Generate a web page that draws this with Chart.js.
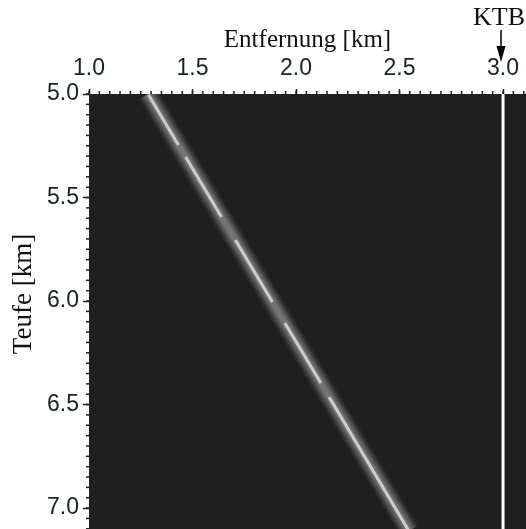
<!DOCTYPE html>
<html>
  <head>
    <style>
      body {
        margin: 0;
        background: #fff;
        overflow: hidden;
      }
      .wrap {
        width: 526px;
        height: 529px;
        position: relative;
      }
    </style>
    <script src="https://cdn.jsdelivr.net/npm/chart.js"></script>
  </head>
  <body>
    <div class="wrap">
      <canvas id="profil"></canvas>
    </div>
    <script>
      // Achsen
      var xTicks = [1.0, 1.5, 2.0, 2.5, 3.0];
      var yTicks = [5.0, 5.5, 6.0, 6.5, 7.0];
      var xRange = [1.0, 3.111];
      var yRange = [5.0, 7.101];

      // Reflektor (breites graues Band)
      var bandX = [1.285, 2.547];
      var bandY = [5.0, 7.11];

      // helle Abschnitte auf dem Band
      var dashStartX = [1.288, 1.467, 1.707, 1.946, 2.160];
      var dashStartY = [5.005, 5.304, 5.705, 6.106, 6.464];
      var dashEndX = [1.432, 1.640, 1.886, 2.120, 2.545];
      var dashEndY = [5.246, 5.594, 6.005, 6.396, 7.11];

      // Bohrung KTB
      var ktbX = 3.0;
      var ktbY = [5.0, 7.11];

      function pts(xs, ys) {
        return xs.map(function(x, i) { return {x: x, y: ys[i]}; });
      }

      // kleinere order = weiter oben
      var datasets = [];
      var glow = [
        [20, 'rgba(80,80,80,0.25)'],
        [16, 'rgba(92,92,92,0.40)'],
        [12, 'rgba(100,100,100,0.60)'],
        [8, 'rgba(108,108,108,0.85)'],
        [5, '#747474']
      ];
      glow.forEach(function(g, k) {
        datasets.push({
          data: pts(bandX, bandY),
          borderColor: g[1],
          borderWidth: g[0],
          showLine: true,
          pointRadius: 0,
          order: 10 - k
        });
      });
      dashStartX.forEach(function(x, i) {
        datasets.push({
          data: [{x: x, y: dashStartY[i]}, {x: dashEndX[i], y: dashEndY[i]}],
          borderColor: '#cdcdcd',
          borderWidth: 3,
          showLine: true,
          pointRadius: 0,
          order: 2
        });
      });
      datasets.push({
        data: [{x: ktbX, y: ktbY[0]}, {x: ktbX, y: ktbY[1]}],
        borderColor: '#ffffff',
        borderWidth: 3,
        showLine: true,
        pointRadius: 0,
        order: 1
      });

      var tickFont = {family: '"Liberation Sans", Arial, sans-serif', size: 23};
      var inkColor = '#122424';

      var decor = {
        id: 'decor',
        beforeDatasetsDraw: function(chart) {
          var a = chart.chartArea, ctx = chart.ctx;
          ctx.save();
          ctx.fillStyle = '#1f1f1f';
          ctx.fillRect(a.left, a.top, a.right - a.left, a.bottom - a.top);
          ctx.restore();
        },
        afterDraw: function(chart) {
          var a = chart.chartArea, ctx = chart.ctx;
          var xs = chart.scales.x, ys = chart.scales.y;
          ctx.save();
          // kleine Striche alle 0.05 km
          ctx.strokeStyle = inkColor;
          ctx.lineWidth = 1.5;
          for (var i = 0; i <= 42; i++) {
            var v = 1.0 + i * 0.05;
            var px = xs.getPixelForValue(v);
            if (px > a.right) break;
            ctx.beginPath();
            ctx.moveTo(px, a.top);
            ctx.lineTo(px, a.top - 3);
            ctx.stroke();
          }
          for (var j = 0; j <= 42; j++) {
            var w = 5.0 + j * 0.05;
            var py = ys.getPixelForValue(w);
            if (py > a.bottom) break;
            ctx.beginPath();
            ctx.moveTo(a.left, py);
            ctx.lineTo(a.left - 3, py);
            ctx.stroke();
          }
          // Achsentitel
          ctx.fillStyle = '#111';
          ctx.font = '25px "Liberation Serif", "Times New Roman", serif';
          ctx.textAlign = 'center';
          ctx.textBaseline = 'alphabetic';
          ctx.fillText('Entfernung [km]', (a.left + a.right) / 2, 47);
          ctx.save();
          ctx.translate(31, 294);
          ctx.rotate(-Math.PI / 2);
          ctx.font = '27px "Liberation Serif", "Times New Roman", serif';
          ctx.fillText('Teufe [km]', 0, 0);
          ctx.restore();
          // KTB mit Pfeil
          var kx = xs.getPixelForValue(ktbX);
          ctx.font = '26px "Liberation Serif", "Times New Roman", serif';
          ctx.fillText('KTB', kx - 4, 25);
          ctx.strokeStyle = '#000';
          ctx.lineWidth = 1.5;
          ctx.beginPath();
          ctx.moveTo(kx - 2, 30);
          ctx.lineTo(kx - 2, 50);
          ctx.stroke();
          ctx.fillStyle = '#000';
          ctx.beginPath();
          ctx.moveTo(kx - 6.5, 46);
          ctx.lineTo(kx + 2.5, 46);
          ctx.lineTo(kx - 2, 62);
          ctx.closePath();
          ctx.fill();
          ctx.restore();
        }
      };

      new Chart(document.getElementById('profil'), {
        type: 'scatter',
        data: {datasets: datasets},
        options: {
          responsive: true,
          maintainAspectRatio: false,
          animation: false,
          layout: {padding: 0},
          plugins: {
            legend: {display: false},
            tooltip: {enabled: false}
          },
          scales: {
            x: {
              type: 'linear',
              position: 'top',
              min: xRange[0],
              max: xRange[1],
              afterBuildTicks: function(s) {
                s.ticks = xTicks.map(function(v) { return {value: v}; });
              },
              afterFit: function(s) {
                s.height = 94;
                s.paddingLeft = 0;
                s.paddingRight = 0;
              },
              ticks: {
                font: tickFont,
                color: inkColor,
                padding: 7,
                maxRotation: 0,
                callback: function(v) { return Number(v).toFixed(1); }
              },
              grid: {
                drawOnChartArea: false,
                drawTicks: true,
                tickLength: 5,
                tickColor: inkColor,
                tickWidth: 1.5
              },
              border: {display: false}
            },
            y: {
              type: 'linear',
              reverse: true,
              min: yRange[0],
              max: yRange[1],
              afterBuildTicks: function(s) {
                s.ticks = yTicks.map(function(v) { return {value: v}; });
              },
              afterFit: function(s) {
                s.width = 89;
                s.paddingTop = 0;
                s.paddingBottom = 0;
              },
              ticks: {
                font: tickFont,
                color: inkColor,
                padding: 4,
                callback: function(v) { return Number(v).toFixed(1); }
              },
              grid: {
                drawOnChartArea: false,
                drawTicks: true,
                tickLength: 6,
                tickColor: inkColor,
                tickWidth: 1.5
              },
              border: {display: false}
            }
          }
        },
        plugins: [decor]
      });
    </script>
  </body>
</html>
